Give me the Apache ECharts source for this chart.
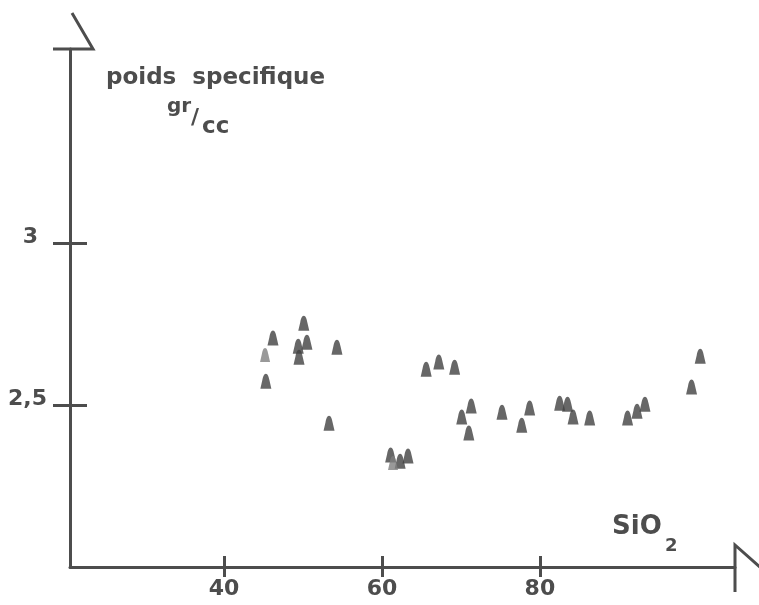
<!DOCTYPE html>
<html>
<head>
<meta charset="utf-8">
<script src="https://cdn.jsdelivr.net/npm/echarts@6/dist/echarts.min.js"></script>
<style>
html,body{margin:0;padding:0;background:#fff;}
#c{width:759px;height:605px;}
</style>
</head>
<body>
<div id="c"></div>
<script>
// SiO2 (%) and specific gravity (gr/cc)
const sio2Dark = [45.3, 46.2, 50.1, 49.4, 49.5, 50.5, 54.3, 53.3, 61.1, 62.3, 63.3, 65.6, 67.2, 69.2, 70.1, 71.3, 71.0, 75.2, 77.7, 78.7, 82.5, 83.5, 84.2, 86.3, 91.1, 92.3, 93.3, 99.2, 100.3];
const densDark = [2.574, 2.707, 2.753, 2.682, 2.648, 2.694, 2.679, 2.444, 2.346, 2.327, 2.343, 2.611, 2.633, 2.617, 2.463, 2.497, 2.414, 2.478, 2.438, 2.491, 2.506, 2.503, 2.463, 2.460, 2.460, 2.481, 2.503, 2.556, 2.651];
const sio2Light = [45.2, 61.4];
const densLight = [2.655, 2.321];
const xTicks = [40, 60, 80];
const yTicks = [2.5, 3];

const INK = '#4d4d4d';
const FONT = '"DejaVu Sans", sans-serif';
const marker = 'path://M5,0 C3.2,0 2.4,3 1.8,6 L0,14 L10,14 L8.2,6 C7.6,3 6.8,0 5,0 Z';

const chart = echarts.init(document.getElementById('c'), null, {renderer: 'canvas'});
const X_MIN = 20.5, X_MAX = 104.7, Y_MIN = 2.0, Y_MAX = 3.6;

const xBase = {type: 'value', min: X_MIN, max: X_MAX, splitLine: {show: false}};
const yBase = {type: 'value', min: Y_MIN, max: Y_MAX, splitLine: {show: false}};

chart.setOption({
  animation: false,
  backgroundColor: '#ffffff',
  grid: {left: 70, right: 24, top: 49, bottom: 38, containLabel: false, outerBoundsMode: 'none'},
  title: [
    {text: 'poids  specifique', left: 101, top: 62, textStyle: {fontFamily: FONT, fontWeight: 'bold', fontSize: 23, color: INK}},
    {text: 'gr', left: 162, top: 92, textStyle: {fontFamily: FONT, fontWeight: 'bold', fontSize: 20, color: INK}},
    {text: '/', left: 186, top: 102, textStyle: {fontFamily: FONT, fontWeight: 'bold', fontSize: 22, color: INK}},
    {text: 'cc', left: 197, top: 111, textStyle: {fontFamily: FONT, fontWeight: 'bold', fontSize: 23, color: INK}},
    {text: 'SiO', left: 607, top: 509, textStyle: {fontFamily: FONT, fontWeight: 'bold', fontSize: 26, color: INK}},
    {text: '2', left: 660, top: 532, textStyle: {fontFamily: FONT, fontWeight: 'bold', fontSize: 18, color: INK}}
  ],
  xAxis: [
    Object.assign({}, xBase, {
      position: 'bottom',
      axisLine: {show: true, onZero: false, lineStyle: {color: INK, width: 3}},
      axisTick: {show: true, customValues: xTicks, length: 10, inside: false, lineStyle: {color: INK, width: 3}},
      axisLabel: {show: true, customValues: xTicks, margin: 11, fontFamily: FONT, fontWeight: 'bold', fontSize: 22, color: INK}
    }),
    Object.assign({}, xBase, {
      position: 'bottom',
      axisLine: {show: false, onZero: false},
      axisTick: {show: true, customValues: xTicks, length: 11, inside: true, lineStyle: {color: INK, width: 3}},
      axisLabel: {show: false}
    })
  ],
  yAxis: [
    Object.assign({}, yBase, {
      position: 'left',
      axisLine: {show: true, onZero: false, lineStyle: {color: INK, width: 3}},
      axisTick: {show: true, customValues: yTicks, length: 17, inside: false, lineStyle: {color: INK, width: 3}},
      axisLabel: {
        show: true, customValues: yTicks, margin: 23,
        fontFamily: FONT, fontWeight: 'bold', fontSize: 22, color: INK,
        formatter: v => v === 3 ? '{t|3}' : String(v).replace('.', ','),
        padding: [0, 0, 12, 0],
        rich: {t: {fontFamily: FONT, fontWeight: 'bold', fontSize: 22, color: INK, padding: [0, 9, 0, 0]}}
      }
    }),
    Object.assign({}, yBase, {
      position: 'left',
      axisLine: {show: false, onZero: false},
      axisTick: {show: true, customValues: yTicks, length: 17, inside: true, lineStyle: {color: INK, width: 3}},
      axisLabel: {show: false}
    })
  ],
  series: [
    {
      type: 'scatter', xAxisIndex: 0, yAxisIndex: 0,
      symbol: marker, symbolSize: [11, 15],
      itemStyle: {color: '#414141'},
      data: sio2Dark.map((x, i) => [x, densDark[i]])
    },
    {
      type: 'scatter', xAxisIndex: 0, yAxisIndex: 0,
      symbol: marker, symbolSize: [10, 14],
      itemStyle: {color: '#7f7f7f'},
      data: sio2Light.map((x, i) => [x, densLight[i]])
    }
  ]
});

// Axis-end flag decorations, anchored to the axis ends via the scales
const yTopPt = chart.convertToPixel({gridIndex: 0}, [X_MIN, Y_MAX]);
const xEndPt = chart.convertToPixel({gridIndex: 0}, [X_MAX, Y_MIN]);
const ls = {stroke: INK, lineWidth: 3, fill: null};
chart.setOption({
  graphic: [
    {type: 'polyline', shape: {points: [[yTopPt[0] - 17, yTopPt[1]], [yTopPt[0] + 23, yTopPt[1]], [yTopPt[0] + 2, yTopPt[1] - 36]]}, style: ls},
    {type: 'polyline', shape: {points: [[xEndPt[0], xEndPt[1] + 25], [xEndPt[0], xEndPt[1] - 22], [xEndPt[0] + 26, xEndPt[1] + 1]]}, style: ls}
  ]
});
</script>
</body>
</html>
